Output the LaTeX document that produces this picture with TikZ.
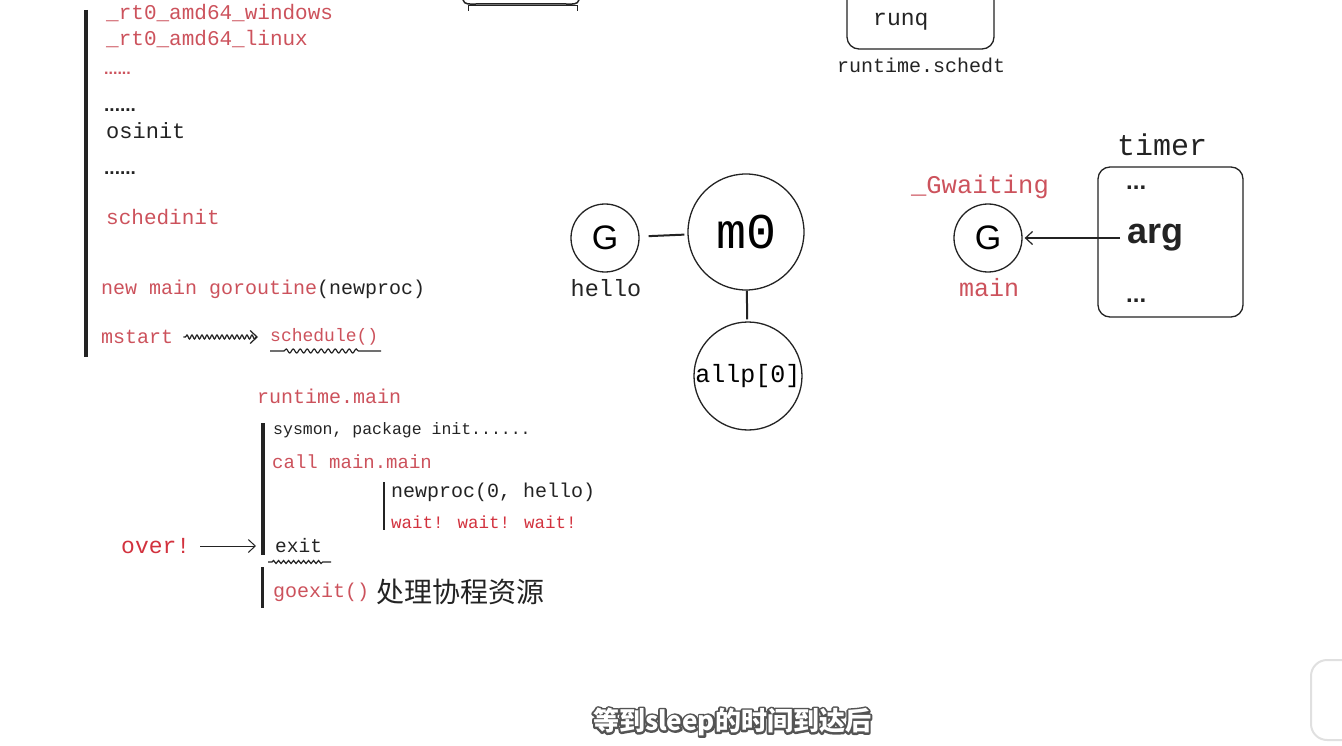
\documentclass[tikz,border=0pt]{standalone}
\usepackage{fontspec}
\setmainfont{Liberation Mono}
\newfontfamily\cjk{Noto Sans CJK SC}
\newfontfamily\sansf{Liberation Sans}
\usetikzlibrary{decorations.pathmorphing,arrows.meta}
\definecolor{rd}{RGB}{204,82,92}
\definecolor{wr}{RGB}{210,50,62}
\definecolor{ink}{RGB}{35,35,35}
\newcommand\fs[1]{\fontsize{#1}{#1}\selectfont}
\newcommand\outlinetext[1]{\rlap{\textcolor{black!70}{\special{pdf:code 2 Tr 4 w 1 J 1 j 0.33 0.33 0.33 RG}#1\special{pdf:code 0 Tr}}}\textcolor{white}{#1}}
\begin{document}
\begin{tikzpicture}[x=1pt,y=-1pt,
  lbl/.style={inner sep=0pt, anchor=west, text=ink},
  rlbl/.style={lbl, text=rd},
  bar/.style={line width=4pt, draw=ink},
  thinbar/.style={line width=2.5pt, draw=ink},
  ring/.style={circle, draw=ink, line width=1.3pt, inner sep=0pt},
  conn/.style={line width=2pt, draw=ink},
  barb/.style={-{Straight Barb[length=7pt,width=13pt]}, line width=1.2pt, draw=ink},
  boxr/.style={draw=ink, line width=1.3pt, rounded corners=12pt}]
\useasboundingbox (0,0) rectangle (1342,746);

% ---- left column
\draw[bar] (86,10) -- (86,357);
\node[rlbl] (rtw) at (106,13) {\fs{21}\_rt0\_amd64\_windows};
\node[rlbl] (rtl) at (106,39) {\fs{21}\_rt0\_amd64\_linux};
\node[rlbl] (d1) at (104,73) {\sansf\bfseries\fs{16}......};
\node[lbl] (d2) at (104,110) {\sansf\bfseries\fs{19}......};
\node[lbl] (osinit) at (106,131) {\fs{22}osinit};
\node[lbl] (d3) at (104,173) {\sansf\bfseries\fs{19}......};
\node[rlbl] (schedinit) at (106,217) {\fs{21}schedinit};
\node[lbl] (newmain) at (101,289) {\fs{20}\textcolor{rd}{new main goroutine}(newproc)};
\node[rlbl] (mstart) at (101,337) {\fs{20}mstart};
\node[rlbl] (schedule) at (270,337) {\fs{18}schedule()};
\draw[barb, decorate, decoration={snake, amplitude=2pt, segment length=5pt, pre length=12pt, post length=12pt}, shorten <=10pt, shorten >=12pt] (mstart.east) -- (schedule.west);
\coordinate (su1) at (270,351);
\coordinate (su2) at (381,351);
\draw[line width=1.2pt, ink, decorate, decoration={snake, amplitude=2pt, segment length=7pt, pre length=14pt, post length=20pt}] (su1) -- (su2);

% ---- runtime.main
\node[rlbl] (rtmain) at (257,396) {\fs{20}runtime.main};
\draw[bar] (263,423) -- (263,555);
\node[lbl] (sysmon) at (273,430) {\fs{16.5}sysmon, package init......};
\node[rlbl] (callmain) at (272,462) {\fs{19}call main.main};
\draw[thinbar] (384,482) -- (384,530);
\node[lbl] (np) at (391,492) {\fs{20}newproc(0, hello)};
\node[lbl, text=wr] (wait) at (391,522) {\fs{17.5}wait! wait! wait!};
\node[lbl] (exit) at (275,546) {\fs{19.5}exit};
\coordinate (eu1) at (268,562);
\coordinate (eu2) at (331,562);
\draw[line width=1.2pt, ink, decorate, decoration={snake, amplitude=1.5pt, segment length=5pt, pre length=4pt, post length=8pt}] (eu1) -- (eu2);
\node[lbl, text=wr] (over) at (121,546) {\fs{23}over!};
\coordinate (exitbar) at (256,546);
\draw[barb, line width=1pt, shorten <=10pt] (over.east) -- (exitbar);
\draw[thinbar, line width=3pt] (262,567) -- (262,608);
\node[rlbl] (goexit) at (273,592) {\fs{20}goexit()};
\node[lbl] (cn) at (376,592) {\cjk\fs{28}处理协程资源};

% ---- top partial shapes
\draw[line width=1.5pt, ink] (463,0) to[out=-75,in=180] (476,4) -- (566,4) to[out=0,in=-105] (579,0);
\draw[line width=1pt, ink] (468,11) -- (468,6) -- (577,6) -- (577,11);
\draw[boxr] (847,-20) rectangle (994,49);
\node[lbl] (runq) at (873,22) {\fs{23}runq};
\node[lbl] (schedt) at (837,65) {\fs{20}runtime.schedt};

% ---- m0 / G hello / allp
\node[ring, minimum size=68pt] (ghello) at (605,238) {\sansf\fs{34}G};
\node[lbl, anchor=center] (hello) at (606,288) {\fs{23.5}hello};
\node[ring, minimum size=116pt] (m0) at (746,232) {\fs{50}m0};
\node[ring, minimum size=108pt] (allp) at (748,376) {\fs{25}allp[0]};
\draw[conn, shorten <=9pt, shorten >=3pt] (ghello) -- (m0);
\draw[conn, shorten >=2pt] (m0) -- (allp);

% ---- timer / G main
\node[lbl, anchor=center] (timerlbl) at (1162,145) {\fs{30}timer};
\draw[boxr] (1098,167) rectangle (1243,317);
\node[lbl] (td1) at (1126,188) {\sansf\bfseries\fs{24}...};
\node[lbl] (arg) at (1127,238) {\sansf\bfseries\fs{36}arg};
\node[lbl] (td2) at (1126,301) {\sansf\bfseries\fs{24}...};
\node[rlbl, anchor=center] (gw) at (980,187) {\fs{25.5}\_Gwaiting};
\node[ring, minimum size=68pt] (gmain) at (988,238) {\sansf\fs{34}G};
\node[rlbl, anchor=center] (mainlbl) at (989,288) {\fs{25}main};
\coordinate (argtail) at (1120,238);
\draw[barb, shorten >=2pt] (argtail) -- (gmain);

% ---- bottom-right widget
\draw[black!12, line width=2pt, fill=white, rounded corners=16pt] (1311,660) rectangle (1370,740);

% ---- subtitle
\node[inner sep=0pt] (sub) at (732,722) {\cjk\bfseries\fs{26}\outlinetext{等到sleep的时间到达后}};
\end{tikzpicture}
\end{document}
